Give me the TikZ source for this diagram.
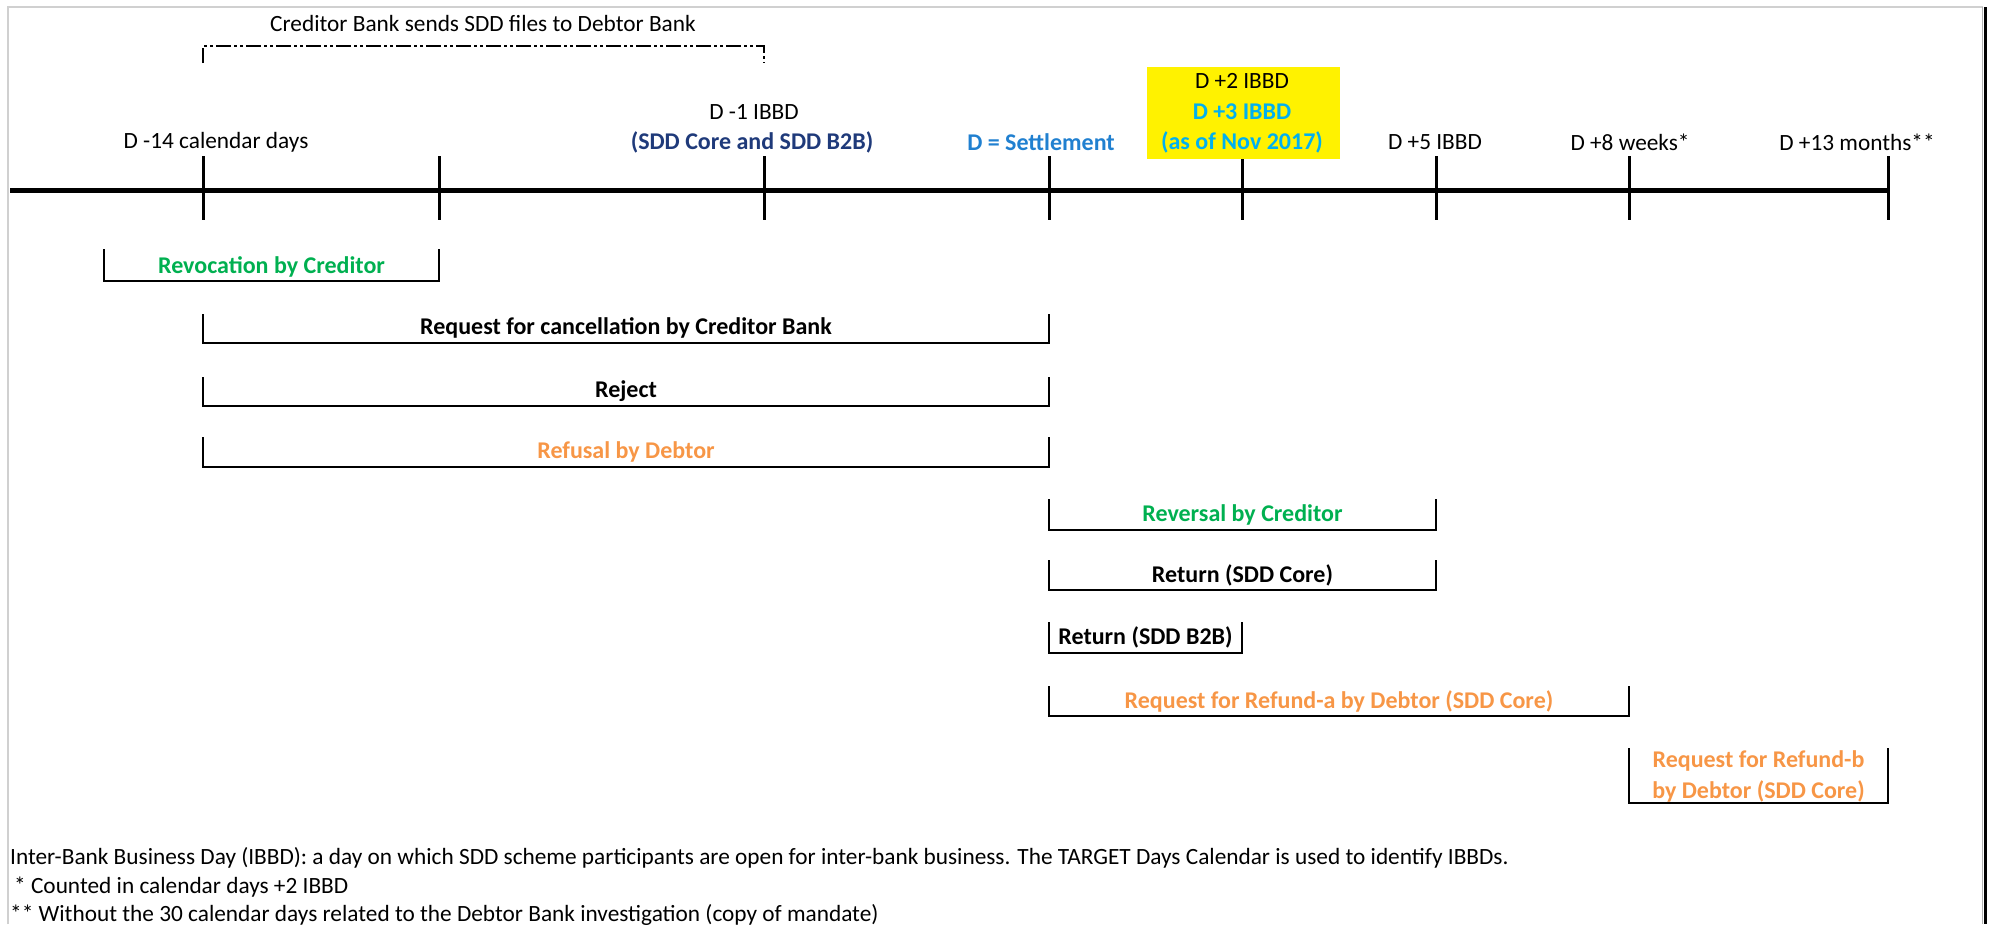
\documentclass[tikz,border=0pt]{standalone}
\usepackage{fontspec}
\setmainfont{Carlito}
\definecolor{cgreen}{HTML}{00B050}
\definecolor{corange}{HTML}{F79646}
\definecolor{cblue}{HTML}{2080D0}
\definecolor{clblue}{HTML}{00B0F0}
\definecolor{cnavy}{HTML}{1F3A7A}
\definecolor{cborder}{HTML}{D0D0D0}
\begin{document}
\begin{tikzpicture}[x=1pt,y=-1pt,
  lbl/.style={inner sep=0pt, anchor=center, font=\fontsize{23.3}{27}\selectfont},
  blbl/.style={lbl, font=\fontsize{24}{29}\selectfont\bfseries},
  axisline/.style={line width=5pt},
  tickline/.style={line width=3pt},
  bracketline/.style={line width=2.4pt},
  ddline/.style={line width=2.4pt, dash pattern=on 15pt off 3pt on 3pt off 3pt on 3pt off 3pt}
]
\useasboundingbox (0,0) rectangle (1991,924);
% frame
\draw[cborder, line width=2.5pt] (8,924) -- (8,7) -- (1983,7);
\draw[black, line width=3pt] (1985,7) -- (1985,924);
\draw[gray!60, line width=1pt] (1982,7) -- (1982,924);

% axis
\coordinate (a0) at (10,190);
\coordinate (a9) at (1888,190);
\draw[axisline] (a0) -- (a9);
% ticks
\foreach \n/\x in {1/203,2/439,3/764,4/1049,5/1242,6/1436,7/1629,8/1888}{
  \coordinate (tt\n) at (\x,156);
  \coordinate (tb\n) at (\x,220);
  \draw[tickline] (tt\n) -- (tb\n);
}

% top dash-dot bracket
\coordinate (d1) at (203,63);
\coordinate (d2) at (764,63);
\draw[ddline] (d1) -- (203,46) -- (764,46) -- (d2);
\node[lbl] (ctop) at (483,23) {Creditor Bank sends SDD files to Debtor Bank};

% tick labels
\node[lbl] (l1) at (216,142) {D -14 calendar days};
\node[lbl] (l3a) at (754,112) {D -1 IBBD};
\node[blbl, text=cnavy] (l3b) at (752,142) {(SDD Core and SDD B2B)};
\node[blbl, text=cblue] (l4) at (1041,142) {D = Settlement};
\node[fill=yellow, minimum width=193pt, minimum height=92pt, inner sep=0pt] (ybox) at (1243.5,113) {};
\node[lbl] (l5a) at (1242,81) {D +2 IBBD};
\node[blbl, text=clblue] (l5b) at (1242,112) {D +3 IBBD};
\node[blbl, text=clblue] (l5c) at (1242,142) {(as of Nov 2017)};
\node[lbl] (l6) at (1435,142) {D +5 IBBD};
\node[lbl] (l7) at (1630,142) {D +8 weeks*};
\node[lbl] (l8) at (1857,142) {D +13 months**};

% brackets: name, x1, x2, ytop, ybot
\newcommand{\brk}[5]{%
  \coordinate (#1s) at (#2,#4);
  \coordinate (#1e) at (#3,#4);
  \draw[bracketline] (#1s) |- (#3,#5) -- (#1e);
}
\brk{b1}{104}{439}{249}{281}
\node[blbl, text=cgreen] (n1) at (271.5,267) {Revocation by Creditor};
\brk{b2}{203}{1049}{314}{343}
\node[blbl] (n2) at (626,328) {Request for cancellation by Creditor Bank};
\brk{b3}{203}{1049}{377}{406}
\node[blbl] (n3) at (626,391) {Reject};
\brk{b4}{203}{1049}{437}{467}
\node[blbl, text=corange] (n4) at (626,452) {Refusal by Debtor};
\brk{b5}{1049}{1436}{499}{530}
\node[blbl, text=cgreen] (n5) at (1242.5,515) {Reversal by Creditor};
\brk{b6}{1049}{1436}{560}{590}
\node[blbl] (n6) at (1242.5,575) {Return (SDD Core)};
\brk{b7}{1049}{1242}{622}{653}
\node[blbl] (n7) at (1145.5,637) {Return (SDD B2B)};
\brk{b8}{1049}{1629}{686}{716}
\node[blbl, text=corange] (n8) at (1339,701) {Request for Refund-a by Debtor (SDD Core)};
\brk{b9}{1629}{1888}{748}{803}
\node[blbl, text=corange, align=center] (n9) at (1758.5,776) {Request for Refund-b\\[2pt]by Debtor (SDD Core)};

% footnotes
\node[lbl, anchor=west] (f1) at (10,858) {Inter-Bank Business Day (IBBD): a day on which SDD scheme participants are open for inter-bank business. The TARGET Days Calendar is used to identify IBBDs.};
\node[lbl, anchor=west] (f2) at (14,887) {* Counted in calendar days +2 IBBD};
\node[lbl, anchor=west] (f3) at (10,915) {** Without the 30 calendar days related to the Debtor Bank investigation (copy of mandate)};
\end{tikzpicture}
\end{document}
